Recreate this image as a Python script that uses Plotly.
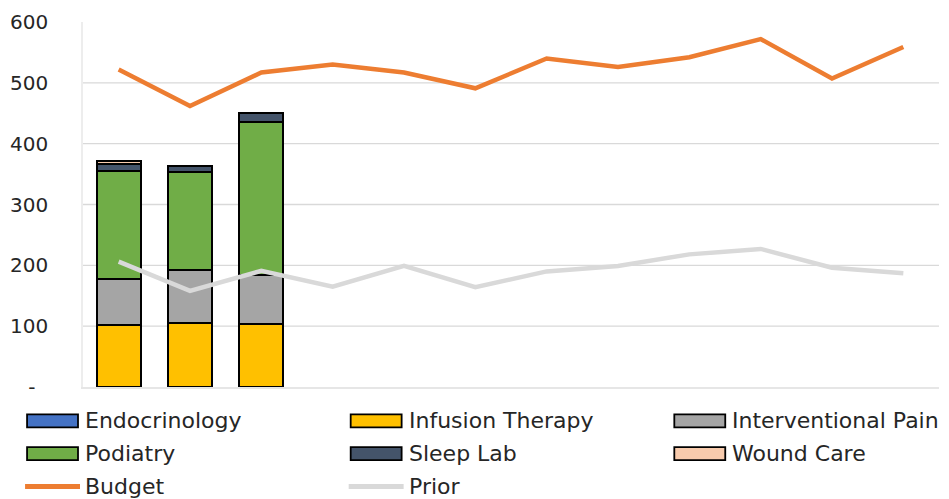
import plotly.graph_objects as go

# Monthly volume by service line, with budget and prior-year comparison
months = ["Jan", "Feb", "Mar", "Apr", "May", "Jun",
          "Jul", "Aug", "Sep", "Oct", "Nov", "Dec"]

endocrinology = [0, 0, 0]
infusion_therapy = [102, 105, 104]
interventional_pain = [76, 88, 80]
podiatry = [177, 160, 251]
sleep_lab = [12, 11, 16]
wound_care = [4, 0, 0]

budget = [522, 462, 517, 530, 517, 491, 540, 526, 542, 572, 507, 559]
prior = [206, 158, 191, 165, 199, 164, 190, 199, 218, 227, 196, 187]

y_tick_values = [0, 100, 200, 300, 400, 500, 600]
y_tick_labels = ["-\u00a0\u00a0", "100", "200", "300", "400", "500", "600"]

bar_series = [
    ("Endocrinology", endocrinology, "#4472C4"),
    ("Infusion Therapy", infusion_therapy, "#FFC000"),
    ("Interventional Pain", interventional_pain, "#A5A5A5"),
    ("Podiatry", podiatry, "#70AD47"),
    ("Sleep Lab", sleep_lab, "#44546A"),
    ("Wound Care", wound_care, "#F8CBAD"),
]
line_series = [
    ("Budget", budget, "#ED7D31"),
    ("Prior", prior, "#D9D9D9"),
]

FONT = "DejaVu Sans"
W, H = 949, 499
M_L, M_R, M_T, M_B = 82, 10, 20, 112
PW, PH = W - M_L - M_R, H - M_T - M_B

fig = go.Figure()

for name, values, color in bar_series:
    fig.add_trace(go.Bar(
        x=months[:len(values)], y=values, name=name,
        marker=dict(color=color, line=dict(color="#000000", width=2)),
        showlegend=False,
    ))

for name, values, color in line_series:
    fig.add_trace(go.Scatter(
        x=months, y=values, name=name, mode="lines",
        line=dict(color=color, width=4.5),
        showlegend=False,
    ))


def px_x(px):
    return (px - M_L) / PW


def px_y(py):
    return (H - M_B - py) / PH


shapes = []
annotations = []

# horizontal gridlines (no line at the top of the range)
for v in y_tick_values[1:-1]:
    shapes.append(dict(type="line", xref="paper", yref="y", x0=0, x1=1,
                       y0=v, y1=v, line=dict(color="#D9D9D9", width=1.3),
                       layer="below"))

# legend: three columns, three rows
entries = [(n, c, "bar") for n, _, c in bar_series] + \
          [(n, c, "line") for n, _, c in line_series]
col_x = [26, 350, 674]
row_y = [421, 454, 487]
sym_w, sym_h = 51, 13
for i, (name, color, kind) in enumerate(entries):
    cx = col_x[i % 3]
    cy = row_y[i // 3]
    if kind == "bar":
        shapes.append(dict(type="rect", xref="paper", yref="paper",
                           x0=px_x(cx), x1=px_x(cx + sym_w),
                           y0=px_y(cy - sym_h / 2), y1=px_y(cy + sym_h / 2),
                           fillcolor=color,
                           line=dict(color="#000000", width=1.8)))
    else:
        shapes.append(dict(type="line", xref="paper", yref="paper",
                           x0=px_x(cx - 2), x1=px_x(cx + sym_w + 2),
                           y0=px_y(cy), y1=px_y(cy),
                           line=dict(color=color, width=5)))
    annotations.append(dict(text=name, xref="paper", yref="paper",
                            x=px_x(cx + sym_w + 5), y=px_y(cy),
                            xanchor="left", yanchor="middle", showarrow=False,
                            font=dict(family=FONT, size=22, color="#262626")))

fig.update_layout(
    width=W, height=H,
    margin=dict(l=M_L, r=M_R, t=M_T, b=M_B),
    paper_bgcolor="white", plot_bgcolor="white",
    barmode="stack", bargap=0.384,
    font=dict(family=FONT, size=20, color="#262626"),
    shapes=shapes, annotations=annotations,
    showlegend=False,
    xaxis=dict(showticklabels=False, showgrid=False, zeroline=False,
               showline=True, linecolor="#E6E6E6", linewidth=1.5,
               range=[-0.5, 11.5]),
    yaxis=dict(range=[0, 600], tickvals=y_tick_values, ticktext=y_tick_labels,
               showgrid=False, zeroline=False,
               showline=True, linecolor="#EDEDED", linewidth=1.5,
               ticklabelstandoff=29,
               tickfont=dict(family=FONT, size=20, color="#262626")),
)

fig.write_html("out.html")
